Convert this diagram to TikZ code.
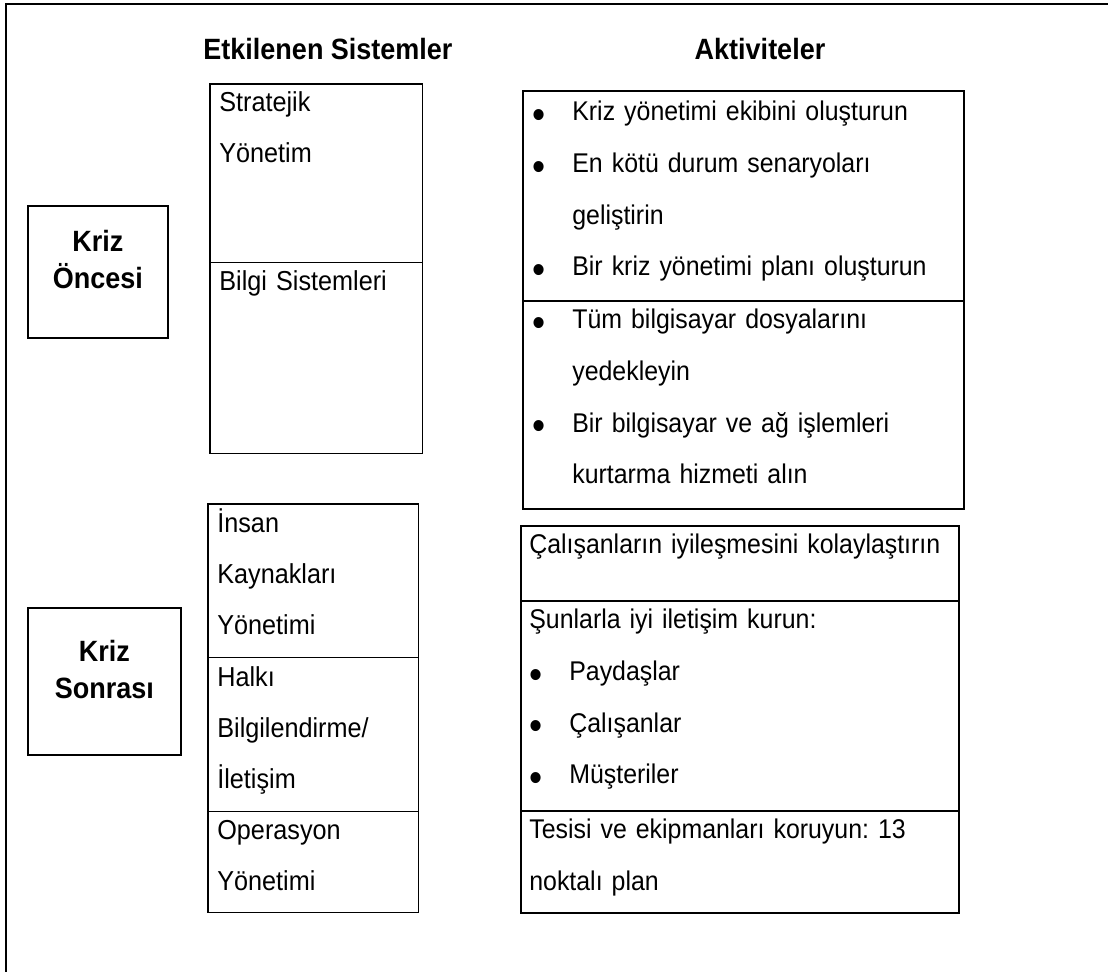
\documentclass[tikz,border=0pt]{standalone}
\usepackage{fontspec}
\setmainfont[FakeStretch=0.92]{Liberation Sans}
\usepackage{tikz}
\usetikzlibrary{positioning}
\frenchspacing

\newcommand{\madde}{\makebox[0.8cm][l]{\raisebox{-0.28em}{\scalebox{1.5}{\textbullet}}}}
\newcommand{\devam}{\hspace*{0.8cm}}

\begin{document}
\begin{tikzpicture}[x=0.02cm,y=-0.02cm,
    kutu/.style={draw, rectangle, anchor=north west, inner sep=0pt, outer sep=0pt},
    evre/.style={kutu, line width=1.1pt},
    sistem/.style={kutu, line width=0.6pt},
    aktivite/.style={kutu, line width=0.75pt},
    baslik/.style={anchor=base, inner sep=0pt, font=\fontsize{16.7}{18}\selectfont\bfseries},
    evreyazi/.style={anchor=base, inner sep=0pt, align=center, text width=2.6cm, font=\fontsize{16.7}{21}\selectfont\bfseries},
    solyazi/.style={anchor=base west, inner sep=0pt, align=left, text width=4cm, font=\fontsize{15.6}{28.8}\selectfont},
    sagyazi/.style={anchor=base west, inner sep=0pt, align=left, text width=8.5cm, font=\fontsize{15.4}{29.4}\selectfont},
]
    \useasboundingbox (0,0) rectangle (1108,972);
    \draw[line width=0.75pt] (1108,4) -- (6,4) -- (6,972); % cerceve, sadece ust ve sol

    % basliklar
    \node[baslik] (bas-sistem) at (328,60) {Etkilenen Sistemler};
    \node[baslik] (bas-aktivite) at (760,60) {Aktiviteler};

    % kriz oncesi
    \node[evre, minimum width=2.8cm, minimum height=2.64cm] (oncesi) at (28,206) {};
    \node[evreyazi] (oncesi-yazi) at ([shift={(0,-20)}]oncesi.center) {Kriz\\Öncesi};

    \node[sistem, minimum width=4.26cm, minimum height=3.58cm] (stratejik) at (210,84) {};
    \node[sistem, minimum width=4.26cm, minimum height=3.82cm, below=0pt of stratejik] (bilgi) {};
    \node[solyazi] (stratejik-yazi) at ([shift={(9,28)}]stratejik.north west) {Stratejik\\Yönetim};
    \node[solyazi] (bilgi-yazi) at ([shift={(9,28)}]bilgi.north west) {Bilgi Sistemleri};

    \node[aktivite, minimum width=8.82cm, minimum height=4.2cm] (akt1) at (523,91) {};
    \node[aktivite, minimum width=8.82cm, minimum height=4.16cm, below=0pt of akt1] (akt2) {};
    \node[sagyazi] (akt1-yazi) at ([shift={(9,30)}]akt1.north west) {\madde Kriz yönetimi ekibini oluşturun\\
        \madde En kötü durum senaryoları\\
        \devam geliştirin\\
        \madde Bir kriz yönetimi planı oluşturun};
    \node[sagyazi] (akt2-yazi) at ([shift={(9,28)}]akt2.north west) {\madde Tüm bilgisayar dosyalarını\\
        \devam yedekleyin\\
        \madde Bir bilgisayar ve ağ işlemleri\\
        \devam kurtarma hizmeti alın};

    % kriz sonrasi
    \node[evre, minimum width=3.06cm, minimum height=2.94cm] (sonrasi) at (28,608) {};
    \node[evreyazi] (sonrasi-yazi) at ([shift={(0,-19.5)}]sonrasi.center) {Kriz\\Sonrası};

    \node[sistem, minimum width=4.22cm, minimum height=3.08cm] (insan) at (208,504) {};
    \node[sistem, minimum width=4.22cm, minimum height=3.08cm, below=0pt of insan] (halki) {};
    \node[sistem, minimum width=4.22cm, minimum height=2.02cm, below=0pt of halki] (operasyon) {};
    \node[solyazi] (insan-yazi) at ([shift={(9,29)}]insan.north west) {İnsan\\Kaynakları\\Yönetimi};
    \node[solyazi] (halki-yazi) at ([shift={(9,29)}]halki.north west) {Halkı\\Bilgilendirme/\\İletişim};
    \node[solyazi] (operasyon-yazi) at ([shift={(9,28)}]operasyon.north west) {Operasyon\\Yönetimi};

    \node[aktivite, minimum width=8.76cm, minimum height=1.5cm] (akt3) at (521,526) {};
    \node[aktivite, minimum width=8.76cm, minimum height=4.2cm, below=0pt of akt3] (akt4) {};
    \node[aktivite, minimum width=8.76cm, minimum height=2.04cm, below=0pt of akt4] (akt5) {};
    \node[sagyazi] (akt3-yazi) at ([shift={(8,28)}]akt3.north west) {Çalışanların iyileşmesini kolaylaştırın};
    \node[sagyazi] (akt4-yazi) at ([shift={(8,28)}]akt4.north west) {Şunlarla iyi iletişim kurun:\\
        \madde Paydaşlar\\
        \madde Çalışanlar\\
        \madde Müşteriler};
    \node[sagyazi] (akt5-yazi) at ([shift={(8,28)}]akt5.north west) {Tesisi ve ekipmanları koruyun: 13\\noktalı plan};
\end{tikzpicture}
\end{document}
